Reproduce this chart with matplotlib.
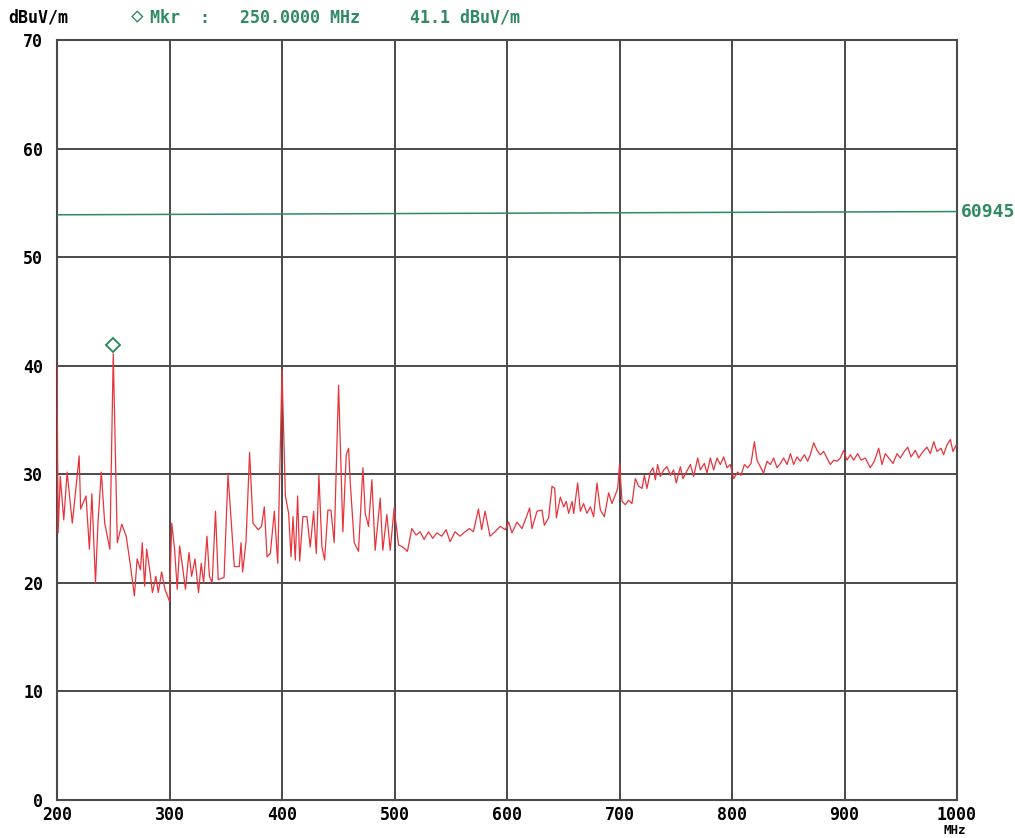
import matplotlib
matplotlib.use("Agg")
import matplotlib.pyplot as plt
import matplotlib.transforms as mtransforms

# frequency (MHz) and level (dBuV/m)
freq = [200, 201, 202.9, 206, 209, 213.6, 216.7, 219.7, 221, 225.8, 228.8, 231, 234.2,
        236.4, 239.4, 242.4, 247, 250, 253.6, 257.6, 261.5, 265, 268.8, 271.2, 274.2,
        275.8, 277.9, 279.7, 282.7, 284.8, 287.9, 290, 293, 296, 300, 302, 304.5, 306.9,
        309, 311.2, 314.2, 317.3, 319.7, 322.7, 325.8, 328.2, 330.3, 333.3, 335.5, 337.9,
        340.9, 343.3, 348.5, 352, 357.6, 362, 363.6, 365, 368, 371.2, 374.2, 378.8,
        381.8, 384.3, 386.7, 389.6, 393.2, 396.2, 400, 403, 405.9, 408, 409.8, 411.8,
        413.9, 415.7, 418.6, 422.2, 425.1, 428.1, 430.5, 432.8, 435.5, 437.9, 440.8,
        443.5, 446.4, 450.3, 454.1, 457.1, 459.2, 460.7, 464.2, 468, 471.9, 474, 476.9,
        479.9, 482.8, 487.3, 489.6, 493.2, 496.2, 499.7, 503.6, 507.4, 511.5, 515.4,
        519.2, 522.8, 526.3, 530.2, 534, 537.6, 542, 545.9, 549.4, 553.8, 558.3, 562.7,
        566.6, 570.1, 574.6, 577.5, 580.5, 584.9, 589.3, 594, 598.5, 601.5, 604.4,
        608.9, 613.3, 616.3, 620.1, 622.2, 626.7, 631.1, 633.2, 637, 640, 642.4, 643.9,
        647.4, 650.4, 652.7, 654.8, 657.8, 659.3, 662.8, 665.2, 668.1, 671.1, 674.1,
        677, 680, 683, 686.5, 690.4, 693.3, 696.3, 698.4, 700.1, 702.2, 705.2, 708.1,
        711.1, 714.1, 717, 720, 722.1, 724.4, 727.4, 729.8, 731.9, 733.9, 736.3, 739.3,
        742.2, 745.2, 748.1, 750.5, 754.1, 756.4, 759.4, 763, 765.9, 769.5, 771.9,
        775.4, 777.8, 780.7, 783.7, 786.7, 789.6, 792.6, 795.6, 798.5, 801.5, 805, 808,
        811, 813.9, 816.9, 819.9, 822.2, 825.2, 828.1, 831.1, 834.1, 837, 840, 843,
        845.9, 848.9, 851.9, 854.8, 857.8, 860.7, 864.3, 867.3, 869.6, 872.6, 875.6,
        878.5, 881.5, 884.4, 887.4, 890.4, 893.3, 896.3, 899.3, 902.2, 905.2, 908.1,
        911.7, 914.7, 918.5, 922.9, 926.5, 930.4, 933.3, 936.3, 939.3, 943.1, 946.7,
        949.6, 953.2, 956.2, 959.1, 963, 965.9, 969.8, 973.3, 976.3, 979.3, 982.2,
        985.8, 988.1, 991.1, 994.1, 996.4, 999.4]
level = [40, 24.6, 29.8, 25.8, 30.2, 25.5, 28.6, 31.7, 26.8, 28, 23.1, 28.2, 20,
         25.5, 30.2, 25.5, 23.1, 41.1, 23.7, 25.4, 24.3, 21.8, 18.8, 22.2, 21.2,
         23.7, 19.7, 23.1, 21, 19.1, 20.6, 19.1, 21, 19.4, 18.3, 25.5, 23.1, 19.4,
         23.4, 21.8, 19.4, 22.8, 20.6, 22.2, 19.1, 21.8, 20, 24.3, 20.6, 20,
         26.6, 20.3, 20.5, 30, 21.5, 21.5, 23.7, 21, 23.8, 32, 25.5, 24.9,
         25.2, 27, 22.4, 22.7, 26.6, 21.8, 39.6, 28, 26.4, 22.4, 26.1, 22.1,
         28, 22, 26.1, 26.1, 23.3, 26.6, 22.7, 29.9, 23.3, 22.1, 26.7,
         26.7, 23.7, 38.2, 24.7, 31.8, 32.4, 29.2, 23.7, 22.9, 30.6, 26.4, 25.2,
         29.5, 23, 27.8, 23, 26.3, 23, 26.9, 23.5, 23.3, 22.9, 25,
         24.4, 24.7, 24, 24.7, 24.1, 24.6, 24.3, 24.9, 23.8, 24.7, 24.3, 24.7,
         25, 24.7, 26.8, 24.9, 26.6, 24.3, 24.7, 25.2, 24.9, 25.6, 24.6,
         25.6, 25, 25.8, 26.9, 25, 26.6, 26.7, 25.3, 26, 28.9, 28.7, 26,
         27.9, 27, 27.5, 26.4, 27.5, 26.4, 29.2, 26.6, 27.3, 26.4, 27,
         26.1, 29.2, 26.7, 26.1, 28.3, 27.3, 28.1, 28.7, 31, 27.5, 27.2, 27.6,
         27.3, 29.6, 28.9, 28.7, 29.9, 28.7, 30.2, 30.6, 29.5, 30.9, 29.8, 30.4,
         30.7, 29.9, 30.4, 29.2, 30.7, 29.6, 30.2, 30.9, 29.8, 31.5, 30.4,
         31, 30.1, 31.5, 30.4, 31.5, 30.9, 31.6, 30.6, 30.9, 29.6, 30.2, 29.9,
         30.9, 30.6, 31, 33, 31.3, 30.7, 30.1, 31.2, 30.9, 31.5, 30.6, 31,
         31.5, 30.9, 31.9, 30.9, 31.6, 31.2, 31.8, 31.2, 31.8, 32.9, 32.2,
         31.8, 32.1, 31.5, 30.9, 31.3, 31.2, 31.5, 32.2, 31.3, 31.8, 31.3,
         31.9, 31.3, 31.5, 30.6, 31.2, 32.4, 30.9, 31.9, 31.5, 31, 31.9,
         31.5, 32.1, 32.5, 31.6, 32.2, 31.5, 32.1, 32.5, 31.9, 33, 32.1,
         32.4, 31.8, 32.7, 33.2, 32.1, 32.7]

limit_freq = [200, 1000]
limit_level = [53.9, 54.2]
limit_name = "60945"

mkr_freq = 250.0
mkr_level = 41.1

xticks = [200, 300, 400, 500, 600, 700, 800, 900, 1000]
yticks = [0, 10, 20, 30, 40, 50, 60, 70]

red = "#e8343c"
green = "#2f8a62"
gridc = "#4a4a4a"
mono = ["DejaVu Sans Mono", "DejaVu Sans"]

fig = plt.figure(figsize=(10.15, 8.38), dpi=100)
ax = fig.add_axes([57 / 1015, 38 / 838, 900 / 1015, 760 / 838])

ax.plot(freq, level, color=red, lw=0.9, zorder=3)
ax.plot(limit_freq, limit_level, color=green, lw=1.1, zorder=3)

# marker diamond sits a bit above the peak
trans = mtransforms.offset_copy(ax.transData, fig=fig, x=0, y=6, units="points")
ax.plot([mkr_freq], [mkr_level], marker="D", ms=7, mfc="white", mec=green, mew=1.4,
        transform=trans, zorder=4, clip_on=False)

ax.set_xlim(200, 1000)
ax.set_ylim(0, 70)
ax.set_xticks(xticks)
ax.set_yticks(yticks)
ax.grid(True, color=gridc, lw=1.4)
ax.tick_params(axis="y", length=0, pad=10)
ax.tick_params(axis="x", length=0, pad=4)
for s in ax.spines.values():
    s.set_color(gridc)
    s.set_linewidth(1.5)
for lab in ax.get_xticklabels() + ax.get_yticklabels():
    lab.set_family(mono)
    lab.set_fontweight("bold")
    lab.set_fontsize(12)

fig.text(8 / 1015, 1 - 17 / 838, "dBuV/m", family=mono, fontweight="bold",
         fontsize=12, va="center")
# header marker symbol, drawn as a hollow diamond like on the trace
fig.text(137 / 1015, 1 - 16 / 838, "\u25c7", family=mono, fontsize=15,
         color=green, ha="center", va="center")
fig.text(150 / 1015, 1 - 17 / 838,
         "Mkr  :   %.4f MHz     %.1f dBuV/m" % (mkr_freq, mkr_level),
         family=mono, fontweight="bold", fontsize=12, color=green, va="center")
fig.text(955 / 1015, 1 - 830 / 838, "MHz", family=mono, fontweight="bold",
         fontsize=9, ha="center", va="center")
ax.text(1.004, limit_level[1], limit_name, transform=ax.get_yaxis_transform(),
        family=mono, fontweight="bold", fontsize=13, color=green, va="center",
        clip_on=False)

fig.savefig("out.png", dpi=100)
